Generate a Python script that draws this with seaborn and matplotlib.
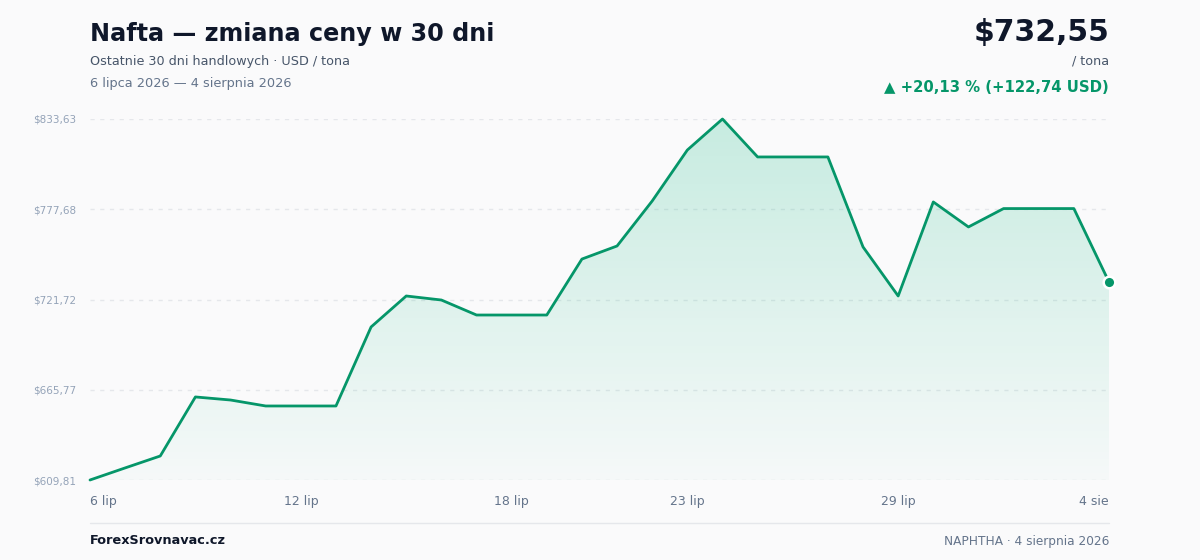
import numpy as np
import pandas as pd
import matplotlib
matplotlib.use("Agg")
import matplotlib.pyplot as plt
import seaborn as sns
from matplotlib.colors import LinearSegmentedColormap

# data
days = list(range(30))
prices = [609.81, 617.3, 624.7, 661.3, 659.4, 655.7, 655.7, 655.7, 704.7, 723.9,
          721.4, 712.1, 712.1, 712.1, 746.8, 754.9, 782.8, 814.4, 833.63, 810.1,
          810.1, 810.1, 754.3, 723.9, 782.2, 766.7, 778.1, 778.1, 778.1, 732.55]
tick_pos = [0, 6, 12, 17, 23, 29]
tick_labels = ["6 lip", "12 lip", "18 lip", "23 lip", "29 lip", "4 sie"]
y_ticks = [609.81, 665.77, 721.72, 777.68, 833.63]

df = pd.DataFrame({"day": days, "price": prices})

green = "#059669"
bg = "#fafafb"

sns.set_theme(style="white")
plt.rcParams["font.family"] = ["DejaVu Sans"]

fig = plt.figure(figsize=(12, 5.6), dpi=100, facecolor=bg)
ax = fig.add_axes([90 / 1200, 1 - 480 / 560, 1019 / 1200, 361 / 560])
ax.set_facecolor(bg)

ymin, ymax = y_ticks[0], y_ticks[-1]

# gradient fill under the line
poly = ax.fill_between(df["day"], df["price"], ymin, color="none", lw=0)
cmap = LinearSegmentedColormap.from_list(
    "g", [(0.063, 0.725, 0.506, 0.02), (0.063, 0.725, 0.506, 0.22)])
grad = np.linspace(0, 1, 256).reshape(-1, 1)
img = ax.imshow(grad, cmap=cmap, aspect="auto", origin="lower",
                extent=[0, 29, ymin, ymax], zorder=1)
path = poly.get_paths()[0]
img.set_clip_path(path, transform=ax.transData)

sns.lineplot(data=df, x="day", y="price", ax=ax, color=green, lw=2, zorder=3,
             clip_on=False)
ax.scatter([days[-1]], [prices[-1]], s=70, color=green, edgecolor="white",
           linewidth=1.8, zorder=4, clip_on=False)

ax.set_xlim(0, 29)
ax.set_ylim(ymin, ymax)
for yv in y_ticks:
    ax.axhline(yv, color="#e5e7eb", lw=1, ls=(0, (3, 4)), zorder=0)

ax.set_yticks(y_ticks)
ax.set_yticklabels(["$" + f"{v:.2f}".replace(".", ",") for v in y_ticks],
                   fontsize=7.5, color="#94a3b8")
ax.set_xticks(tick_pos)
ax.set_xticklabels(tick_labels, fontsize=9, color="#64748b")
xl = ax.get_xticklabels()
xl[0].set_ha("left")
xl[-1].set_ha("right")
ax.tick_params(axis="x", length=0, pad=11)
ax.tick_params(axis="y", length=0, pad=10)
ax.set_xlabel("")
ax.set_ylabel("")
sns.despine(ax=ax, left=True, bottom=True)

# header
fig.text(90 / 1200, 1 - 34 / 560, "Nafta — zmiana ceny w 30 dni", fontsize=17.2,
         fontweight="bold", color="#0f172a", va="center", ha="left")
fig.text(90 / 1200, 1 - 61 / 560, "Ostatnie 30 dni handlowych · USD / tona",
         fontsize=9.2, color="#475569", va="center", ha="left")
fig.text(90 / 1200, 1 - 83 / 560, "6 lipca 2026 — 4 sierpnia 2026",
         fontsize=9.3, color="#64748b", va="center", ha="left")
fig.text(1109 / 1200, 1 - 33 / 560, "$732,55", fontsize=21.5, fontweight="bold",
         color="#0f172a", va="center", ha="right")
fig.text(1109 / 1200, 1 - 61 / 560, "/ tona", fontsize=9.2, color="#475569",
         va="center", ha="right")
fig.text(1109 / 1200, 1 - 87 / 560, "▲ +20,13 % (+122,74 USD)", fontsize=10.7,
         fontweight="bold", color=green, va="center", ha="right")

# footer
fig.add_artist(plt.Line2D([90 / 1200, 1109 / 1200], [1 - 523 / 560] * 2,
                          color="#e5e7eb", lw=1))
fig.text(90 / 1200, 1 - 541 / 560, "ForexSrovnavac.cz", fontsize=9.3,
         fontweight="bold", color="#0f172a", va="center", ha="left")
fig.text(1109 / 1200, 1 - 541 / 560, "NAPHTHA · 4 sierpnia 2026", fontsize=8.7,
         color="#64748b", va="center", ha="right")

fig.savefig("out.png", dpi=100, facecolor=bg)
